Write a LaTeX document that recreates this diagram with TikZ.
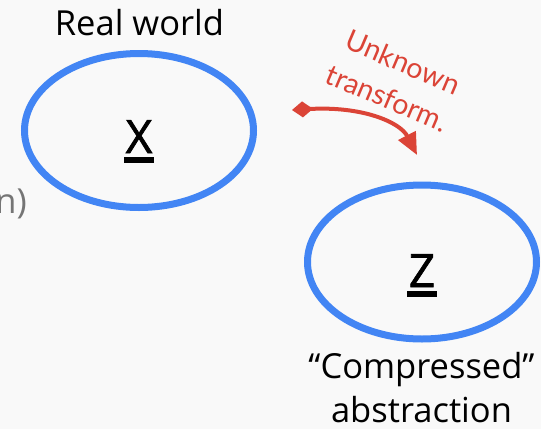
\documentclass[tikz,border=0pt]{standalone}
\usepackage{fontspec}
\setmainfont{Open Sans}
\newfontfamily\notefont{Lato}
\newfontfamily\varfont{Open Sans}[FakeBold=1.6]
\usepackage{xcolor}
\usetikzlibrary{shapes.geometric, arrows.meta, positioning}

\definecolor{gblue}{HTML}{4285F4}
\definecolor{gred}{HTML}{DB4437}
\definecolor{pagebg}{HTML}{F9F9F9}
\definecolor{cutgray}{HTML}{757575}
\newcommand{\ulvar}[1]{\vtop{\hbox{\kern1.5pt#1\kern1.5pt}\kern4pt\hrule height 5.5pt}}

\begin{document}
\begin{tikzpicture}[x=1pt, y=-1pt,
  setblob/.style={ellipse, draw=gblue, line width=7pt, minimum width=229pt, minimum height=154pt, inner sep=0pt},
  varlabel/.style={inner sep=0pt, font=\varfont\fontsize{46}{50}\selectfont},
  caption/.style={inner sep=0pt, align=center, font=\fontsize{34.5}{44}\selectfont},
  tfnote/.style={inner sep=0pt, rotate=-23, text=gred, font=\notefont\fontsize{28.5}{32}\selectfont},
  transform/.style={draw=gred, line width=4pt, {Diamond[length=21pt,width=16pt]}-{Triangle[length=22pt,width=19pt]}}]

  \fill[pagebg] (0,0) rectangle (541,429);
  \useasboundingbox (0,0) rectangle (541,429);

  \node [setblob] (xspace) at (139,130.5) {};
  \node [setblob] (zspace) at (422,262) {};
  \node [varlabel, anchor=base] (xvar) at ([yshift=-22.5pt]xspace.center) {\ulvar{X}};
  \node [varlabel, anchor=base] (zvar) at ([yshift=-25pt]zspace.center) {\ulvar{Z}};

  \node [caption, anchor=base] (realworld) at (139.5,35) {Real world};
  \node [caption, anchor=north] (compressed) at (421.5,352) {“Compressed”\\abstraction};
  \node [caption, anchor=base east, text=cutgray] (cutoff) at (27,213) {n)};

  \node [tfnote] (tfword1) at (403,62) {Unknown};
  \node [tfnote] (tfword2) at (387,98) {transform.};

  \coordinate (tfstart) at (292,110);
  \coordinate (tfend) at (417,155);
  \draw [transform] (tfstart) .. controls (362,106) and (400,122) .. (tfend);
\end{tikzpicture}
\end{document}
